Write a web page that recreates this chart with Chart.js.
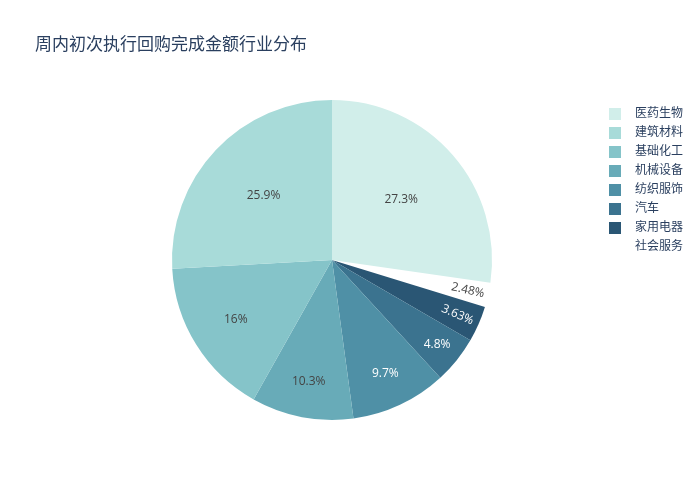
<!DOCTYPE html>
<html>
<head>
<meta charset="utf-8">
<script src="https://cdn.jsdelivr.net/npm/chart.js@4.4.1/dist/chart.umd.min.js"></script>
<style>
  body { margin: 0; background: #fff; }
</style>
</head>
<body>
<canvas id="pieChart" width="700" height="500"></canvas>
<script>
const chartTitle = "周内初次执行回购完成金额行业分布";
// legend order
const industries = ["医药生物", "建筑材料", "基础化工", "机械设备", "纺织服饰", "汽车", "家用电器", "社会服务"];
const shares = [27.3, 25.9, 16, 10.3, 9.7, 4.8, 3.63, 2.48];
const sliceColors = [
  "rgb(209,238,234)", "rgb(168,219,217)", "rgb(133,196,201)", "rgb(104,171,184)",
  "rgb(79,144,166)", "rgb(59,115,143)", "rgb(42,86,116)", "rgb(255,255,255)"
];

const fontFamily = '"Open Sans", "Noto Sans CJK SC", sans-serif';
const inkColor = "rgb(42,63,95)";

// slices run clockwise from the end of the first one, so feed them reversed
const drawLabels = industries.slice().reverse();
const drawValues = shares.slice().reverse();
const drawColors = sliceColors.slice().reverse();
const total = shares.reduce((a, b) => a + b, 0);
const startRotation = shares[0] / total * 360;

function isLight(rgb) {
  const [r, g, b] = rgb.match(/\d+/g).map(Number);
  return (0.299 * r + 0.587 * g + 0.114 * b) / 255 > 0.55;
}

// Title
const titlePlugin = {
  id: "plotTitle",
  afterDraw(chart) {
    const ctx = chart.ctx;
    ctx.save();
    ctx.font = "17px " + fontFamily;
    ctx.fillStyle = inkColor;
    ctx.textBaseline = "middle";
    ctx.fillText(chartTitle, 35, 45);
    ctx.restore();
  }
};

// Legend (kept in the original order)
const legendPlugin = {
  id: "plotLegend",
  afterDraw(chart) {
    const ctx = chart.ctx;
    ctx.save();
    ctx.font = "12px " + fontFamily;
    ctx.textBaseline = "middle";
    industries.forEach((name, i) => {
      const y = 114 + i * 19;
      ctx.fillStyle = sliceColors[i];
      ctx.fillRect(609, y - 6, 12, 12);
      ctx.fillStyle = inkColor;
      ctx.fillText(name, 635, y);
    });
    ctx.restore();
  }
};

// Percent labels inside the slices
const sliceLabelPlugin = {
  id: "sliceLabels",
  afterDatasetsDraw(chart) {
    const ctx = chart.ctx;
    const meta = chart.getDatasetMeta(0);
    meta.data.forEach((arc, i) => {
      const p = arc.getProps(["x", "y", "startAngle", "endAngle", "outerRadius"], true);
      const value = drawValues[i];
      const mid = (p.startAngle + p.endAngle) / 2;
      const r = p.outerRadius * (0.9 - 0.012 * value);
      ctx.save();
      ctx.translate(p.x + Math.cos(mid) * r, p.y + Math.sin(mid) * r);
      if (value < 4) ctx.rotate(mid);
      ctx.font = "12px " + fontFamily;
      ctx.fillStyle = isLight(drawColors[i]) ? "rgb(68,68,68)" : "#ffffff";
      ctx.textAlign = "center";
      ctx.textBaseline = "middle";
      ctx.fillText(value + "%", 0, 0);
      ctx.restore();
    });
  }
};

new Chart(document.getElementById("pieChart").getContext("2d"), {
  type: "pie",
  data: {
    labels: drawLabels,
    datasets: [{
      data: drawValues,
      backgroundColor: drawColors,
      borderWidth: 0
    }]
  },
  options: {
    responsive: false,
    animation: false,
    rotation: startRotation,
    layout: { padding: { left: 172, right: 208, top: 100, bottom: 80 } },
    plugins: {
      legend: { display: false },
      title: { display: false },
      tooltip: { enabled: false }
    }
  },
  plugins: [titlePlugin, legendPlugin, sliceLabelPlugin]
});
</script>
</body>
</html>
